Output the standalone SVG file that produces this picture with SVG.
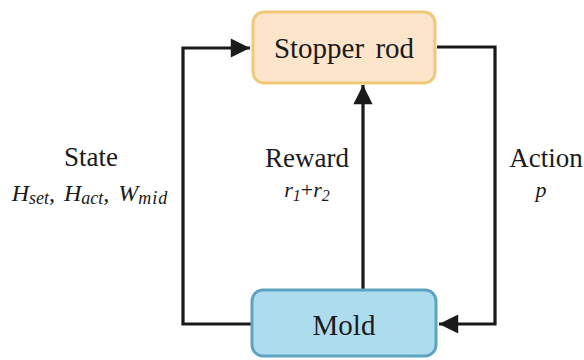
<svg xmlns="http://www.w3.org/2000/svg" width="584" height="360" viewBox="0 0 584 360">
<defs>
<marker id="ah" viewBox="0 0 10 10" refX="10" refY="5" markerWidth="6.2" markerHeight="6" markerUnits="strokeWidth" orient="auto">
<path d="M0,0 L10,5 L0,10 z" fill="#1a1a1a"/>
</marker>
<style>
.t{font-family:"Liberation Serif","Times New Roman",serif;fill:#1a1a1a;text-anchor:middle}
.m{font-family:"Liberation Serif","Times New Roman",serif;font-style:italic;fill:#1a1a1a;text-anchor:middle}
.c{fill:none;stroke:#1a1a1a;stroke-width:3.2;stroke-linejoin:miter}
</style>
</defs>
<rect width="584" height="360" fill="#ffffff"/>
<g id="connectors">
<polyline class="c" points="251,324 183,324 183,48 250,48" marker-end="url(#ah)"/>
<polyline class="c" points="437,47 495,47 495,324 439,324" marker-end="url(#ah)"/>
<line class="c" x1="363" y1="289" x2="363" y2="85" marker-end="url(#ah)"/>
</g>
<g id="stopper">
<rect x="253" y="12" width="182" height="71" rx="11" fill="#fde5cc" stroke="#f0c878" stroke-width="3"/>
<text class="t" x="344" y="58" font-size="29" word-spacing="4">Stopper rod</text>
</g>
<g id="mold">
<rect x="252" y="290" width="184" height="66" rx="11" fill="#aedcef" stroke="#5fa3c3" stroke-width="3"/>
<text class="t" x="344" y="335" font-size="29">Mold</text>
</g>
<g id="labels">
<text class="t" x="91" y="166" font-size="27">State</text>
<text class="m" x="90" y="201" font-size="24" word-spacing="3">H<tspan font-size="18" dy="3">set</tspan><tspan dy="-3">, H</tspan><tspan font-size="18" dy="3">act</tspan><tspan dy="-3">, W</tspan><tspan font-size="18" dy="3" letter-spacing="1">mid</tspan></text>
<text class="t" x="307" y="167" font-size="27">Reward</text>
<text class="m" x="307" y="197" font-size="22">r<tspan font-size="16" dy="4">1</tspan><tspan font-style="normal" dy="-4">+</tspan>r<tspan font-size="16" dy="4">2</tspan></text>
<text class="t" x="546" y="167" font-size="27">Action</text>
<text class="m" x="541" y="197" font-size="22">p</text>
</g>
</svg>
